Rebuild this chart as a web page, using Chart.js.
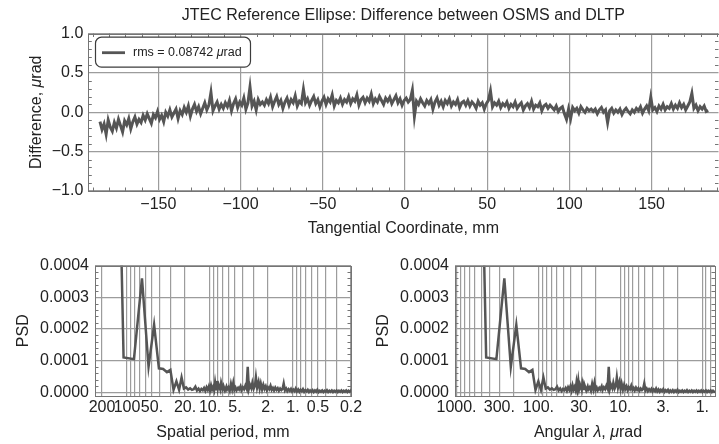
<!DOCTYPE html>
<html>
<head>
<meta charset="utf-8">
<script src="https://cdn.jsdelivr.net/npm/chart.js@4.4.1/dist/chart.umd.min.js"></script>
<style>
  html, body { margin: 0; padding: 0; background: #fff; }
  #wrap { position: relative; width: 719px; height: 444px; overflow: hidden; }
  canvas { position: absolute; }
</style>
</head>
<body>
<div id="wrap">
  <canvas id="diffChart" width="719" height="244" style="left:0;top:0;width:719px;height:244px"></canvas>
  <canvas id="periodChart" width="370" height="194" style="left:0;top:250px;width:370px;height:194px"></canvas>
  <canvas id="angularChart" width="349" height="194" style="left:370px;top:250px;width:349px;height:194px"></canvas>
</div>
<script>
// ---- data ----

// slope difference OSMS - DLTP, sampled along the mirror
const coordStartMm = -185.5;
const coordStepMm = 1.25;
const diffUrad = [
  -0.12, -0.22, -0.15, -0.28, -0.10, -0.19, -0.24, -0.13, -0.20, -0.09, -0.17, -0.25, -0.11, -0.16, -0.08, -0.21, -0.12, -0.06, -0.15, -0.09,
  -0.13, -0.04, -0.10, -0.02, -0.08, -0.14, -0.03, -0.07, 0.01, -0.09, -0.04, -0.12, 0.00, -0.05, 0.03, -0.06, -0.01, 0.04, -0.08, 0.02,
  -0.03, 0.06, 0.00, 0.08, -0.05, 0.04, 0.10, 0.01, 0.07, -0.02, 0.05, 0.12, 0.03, 0.09, 0.25, 0.02, 0.08, 0.13, 0.04, 0.10,
  0.05, 0.12, 0.07, 0.15, 0.02, 0.11, 0.17, 0.06, 0.13, 0.09, 0.18, 0.04, 0.12, 0.32, 0.08, 0.14, 0.03, 0.16, 0.10, 0.13,
  0.09, 0.16, 0.11, 0.19, 0.07, 0.14, 0.20, 0.10, 0.15, 0.05, 0.13, 0.18, 0.09, 0.16, 0.12, 0.21, 0.08, 0.14, 0.11, 0.29,
  0.12, 0.17, 0.09, 0.15, 0.20, 0.11, 0.16, 0.07, 0.14, 0.19, 0.10, 0.17, 0.13, 0.22, 0.08, 0.15, 0.12, 0.18, 0.10, 0.16,
  0.13, 0.20, 0.11, 0.17, 0.14, 0.22, 0.09, 0.16, 0.19, 0.12, 0.18, 0.14, 0.23, 0.11, 0.17, 0.13, 0.20, 0.15, 0.10, 0.18,
  0.14, 0.19, 0.11, 0.16, 0.21, 0.12, 0.17, 0.09, 0.15, 0.18, 0.13, 0.16, 0.28, -0.05, 0.14, 0.10, 0.17, 0.12, 0.08, 0.15,
  0.11, 0.16, 0.04, 0.13, 0.18, 0.09, 0.14, 0.07, 0.15, 0.11, 0.17, 0.08, 0.13, 0.10, 0.16, 0.06, 0.12, 0.14, 0.09, 0.15,
  0.08, 0.13, 0.10, 0.05, 0.14, 0.09, 0.12, 0.04, 0.11, 0.15, 0.27, 0.07, 0.12, 0.09, 0.14, 0.06, 0.11, 0.08, 0.13, 0.05,
  0.10, 0.07, 0.13, 0.05, 0.09, 0.12, 0.03, 0.08, 0.11, 0.06, 0.14, 0.04, 0.09, 0.07, 0.12, 0.02, 0.08, 0.10, 0.05, 0.09,
  0.06, 0.03, 0.08, 0.01, 0.05, 0.07, -0.02, -0.09, 0.04, -0.08, 0.06, 0.02, 0.05, -0.01, 0.07, 0.03, 0.00, 0.05, 0.02, 0.04,
  0.01, 0.04, -0.02, 0.03, 0.06, 0.00, 0.03, -0.13, 0.02, 0.05, -0.01, 0.03, 0.00, 0.04, -0.03, 0.02, 0.05, 0.01, -0.02, 0.03,
  0.00, 0.05, 0.02, 0.07, -0.01, 0.04, 0.08, 0.02, 0.19, 0.03, 0.06, 0.01, 0.08, 0.04, 0.10, 0.03, 0.07, 0.05, 0.11, 0.04,
  0.09, 0.05, 0.12, 0.06, 0.10, 0.03, 0.08, 0.13, 0.24, 0.05, 0.09, 0.02, 0.07, 0.04, 0.08, 0.01, 0.02
];
const rmsText = "0.08742";

// PSD of the difference, by harmonic number k of the trace (period = L / k)
const traceLengthMm = 330;
const angularPerMm = 3.95;   // angular lambda (µrad) per mm of spatial period
const harmonic = [
  2, 3, 4, 5, 6, 7, 8, 9, 10, 11, 12, 13, 14, 15, 16, 17, 18, 19, 20,
  21, 22, 23, 24, 25, 26, 27, 28, 29, 30, 31, 32, 33, 34, 35, 36, 37, 38, 39, 40, 41, 42,
  44, 45, 47, 48, 50, 52, 53, 55, 57, 59, 61, 63, 65, 67, 69, 72, 74, 77, 79, 82,
  85, 88, 91, 94, 97, 100, 104, 107, 111, 115, 118, 122, 127, 131, 135, 140, 145, 150, 155, 160,
  165, 171, 177, 183, 189, 195, 202, 209, 216, 223, 231, 239, 247, 255, 264, 273, 282, 292, 302, 312,
  322, 333, 345, 356, 368, 381, 394, 407, 421, 435, 450, 465, 481, 497, 514, 531, 549, 568, 587, 607,
  628, 649, 671, 694, 717, 742, 767, 793, 820, 847, 876, 906, 936, 968, 1001, 1035, 1070, 1106, 1143, 1182,
  1222, 1263, 1306, 1350, 1396, 1443, 1492, 1542, 1594, 1648, 1704, 1762, 1821, 1850
];
// PSD x 1e6
const psdE6 = [
  2300, 110, 105, 360, 81, 213, 76, 74, 64, 71, 8, 35, 8, 47, 12, 16, 9, 13, 8,
  10, 18, 6, 12, 4, 11, 7, 14, 5, 16, 8, 19, 6, 22, 9, 17, 7, 31, 10, 36, 12, 24,
  8, 30, 11, 20, 6, 18, 9, 16, 5, 27, 10, 30, 8, 15, 6, 14, 9, 19, 7, 16,
  10, 21, 12, 81, 11, 24, 13, 30, 12, 22, 47, 15, 33, 12, 28, 9, 24, 11, 19, 7,
  16, 10, 21, 8, 14, 6, 15, 8, 13, 5, 12, 7, 11, 28, 6, 12, 4, 10, 5, 11,
  3, 9, 4, 12, 3, 9, 2, 8, 4, 10, 2, 7, 3, 8, 1, 6, 2, 7, 1, 6,
  2, 8, 1, 5, 2, 6, 1, 5, 2, 7, 1, 5, 2, 6, 1, 5, 2, 6, 1, 5,
  2, 6, 1, 5, 2, 6, 1, 5, 2, 6, 1, 5, 2, 4
];

// tick labels
const diffXTicks = [-150, -100, -50, 0, 50, 100, 150];
const diffYTicks = [-1, -0.5, 0, 0.5, 1];
const psdYTicks = [0, 0.0001, 0.0002, 0.0003, 0.0004];
const periodTickValues = [200, 100, 50, 20, 10, 5, 2, 1, 0.5, 0.2];
const periodTickText = ["200", "100", "50.", "20.", "10.", "5.", "2.", "1.", "0.5", "0.2"];
const angularTickValues = [1000, 300, 100, 30, 10, 3, 1];
const angularTickText = ["1000.", "300.", "100.", "30.", "10.", "3.", "1."];

// ---- styling ----
const FONT = '"Liberation Sans", Arial, sans-serif';
const INK = "#222222";
const FRAME = "#757575";
const GRID = "#9c9c9c";
const TRACE = "#555555";
Chart.defaults.font.family = FONT;

const minus = s => s.replace("-", "\u2212");

// log gridlines 1..9 x 10^n inside [lo, hi]
function logGrid(lo, hi) {
  const out = [];
  for (let e = -1; e <= 3; e++) {
    for (let m = 1; m <= 9; m++) {
      const v = +(m * Math.pow(10, e)).toPrecision(3);
      if (v >= lo && v <= hi) out.push(v);
    }
  }
  return out.sort((a, b) => b - a);
}

function richText(ctx, parts, x, y, size, vertical) {
  ctx.save();
  ctx.translate(x, y);
  if (vertical) ctx.rotate(-Math.PI / 2);
  let total = 0;
  parts.forEach(p => {
    ctx.font = (p.i ? "italic " : "") + size + "px " + FONT;
    total += ctx.measureText(p.t).width;
  });
  let cx = -total / 2;
  ctx.textBaseline = "middle";
  ctx.textAlign = "left";
  ctx.fillStyle = INK;
  parts.forEach(p => {
    ctx.font = (p.i ? "italic " : "") + size + "px " + FONT;
    ctx.fillText(p.t, cx, 0);
    cx += ctx.measureText(p.t).width;
  });
  ctx.restore();
}

// Mathematica-style frame: box, inward minor ticks, axis titles, legend
const framePlugin = {
  id: "frame",
  afterDatasetsDraw(chart, args, o) {
    const { ctx, chartArea: a } = chart;
    const xs = chart.scales.x, ys = chart.scales.y;
    ctx.save();
    ctx.strokeStyle = FRAME;
    ctx.lineWidth = 1;
    ctx.strokeRect(Math.round(a.left) + 0.5, Math.round(a.top) + 0.5,
      Math.round(a.right) - Math.round(a.left), Math.round(a.bottom) - Math.round(a.top));
    ctx.beginPath();
    (o.minorX || []).forEach(v => {
      const px = Math.round(xs.getPixelForValue(v)) + 0.5;
      ctx.moveTo(px, a.bottom); ctx.lineTo(px, a.bottom - o.tick);
      ctx.moveTo(px, a.top); ctx.lineTo(px, a.top + o.tick);
    });
    (o.minorY || []).forEach(v => {
      const py = Math.round(ys.getPixelForValue(v)) + 0.5;
      ctx.moveTo(a.left, py); ctx.lineTo(a.left + o.tick, py);
      ctx.moveTo(a.right, py); ctx.lineTo(a.right - o.tick, py);
    });
    ctx.stroke();
    richText(ctx, o.xTitle, (a.left + a.right) / 2 + (o.xTitleShift || 0), a.bottom + o.xTitleGap, 16, false);
    richText(ctx, o.yTitle, o.yTitleX, (a.top + a.bottom) / 2, 16, true);
    if (o.legend) {
      const L = o.legend;
      const bx = a.left + 6.7, by = a.top + 3.2, bw = 155, bh = 30;
      ctx.beginPath();
      ctx.roundRect(bx + 0.5, by + 0.5, bw, bh, 6);
      ctx.fillStyle = "#fff";
      ctx.fill();
      ctx.strokeStyle = "#3c3c3c";
      ctx.lineWidth = 1.2;
      ctx.stroke();
      ctx.beginPath();
      ctx.strokeStyle = TRACE;
      ctx.lineWidth = 2.8;
      ctx.moveTo(bx + 7, by + 16);
      ctx.lineTo(bx + 30, by + 16);
      ctx.stroke();
      let cx = bx + 38;
      ctx.fillStyle = INK;
      ctx.textBaseline = "middle";
      L.forEach(p => {
        ctx.font = (p.i ? "italic " : "") + "12.5px " + FONT;
        ctx.fillText(p.t, cx, by + 16);
        cx += ctx.measureText(p.t).width;
      });
    }
    ctx.restore();
  }
};

function fixAxis(size, horizontal) {
  return s => {
    if (horizontal) { s.height = size; s.paddingLeft = 0; s.paddingRight = 0; }
    else { s.width = size; s.paddingTop = 0; s.paddingBottom = 0; }
  };
}

const tickFont = { family: FONT, size: 16 };

// ---- top: difference trace ----
const minorX = [], minorY = [];
for (let v = -190; v <= 190; v += 10) if (v % 50 !== 0) minorX.push(v);
for (let v = -9; v <= 9; v++) if (v % 5 !== 0) minorY.push(v / 10);

new Chart(document.getElementById("diffChart"), {
  type: "line",
  data: {
    datasets: [{
      label: "rms = " + rmsText + " \u03bcrad",
      data: diffUrad.map((v, i) => ({ x: coordStartMm + i * coordStepMm, y: v })),
      borderColor: TRACE,
      borderWidth: 3,
      pointRadius: 0,
      tension: 0,
      clip: 0
    }]
  },
  options: {
    responsive: false,
    animation: false,
    devicePixelRatio: 1,
    layout: { autoPadding: false, padding: { left: 0, right: 0.5, top: 0, bottom: 0 } },
    scales: {
      x: {
        type: "linear", min: -192.6, max: 190.7,
        afterFit: fixAxis(53, true),
        afterBuildTicks: s => { s.ticks = diffXTicks.map(value => ({ value })); },
        grid: { color: GRID, lineWidth: 1.2, drawTicks: false },
        border: { display: false },
        ticks: { color: INK, font: tickFont, padding: 3.9, maxRotation: 0, autoSkip: false,
          callback: v => minus(String(v)) }
      },
      y: {
        min: -1, max: 1,
        afterFit: fixAxis(88.3, false),
        afterBuildTicks: s => { s.ticks = diffYTicks.map(value => ({ value })); },
        grid: { color: GRID, lineWidth: 1.2, drawTicks: false },
        border: { display: false },
        ticks: { color: INK, font: tickFont, padding: 5, callback: v => minus(v.toFixed(1)) }
      }
    },
    plugins: {
      legend: { display: false },
      tooltip: { enabled: false },
      title: {
        display: true, fullSize: false,
        text: "JTEC Reference Ellipse: Difference between OSMS and DLTP",
        color: INK, font: { family: FONT, size: 16, weight: "normal" },
        padding: { top: 6, bottom: 8.3 }
      },
      frame: {
        minorX, minorY, tick: 3.5,
        xTitle: [{ t: "Tangential Coordinate, mm" }], xTitleGap: 38,
        yTitle: [{ t: "Difference, " }, { t: "\u03bc", i: true }, { t: "rad" }], yTitleX: 37,
        legend: [{ t: "rms = " + rmsText + " " }, { t: "\u03bc", i: true }, { t: "rad" }]
      }
    }
  },
  plugins: [framePlugin]
});

// ---- bottom: PSD vs spatial period and vs angular lambda ----
const psdMinorY = [];
for (let v = 1; v <= 19; v++) if (v % 5 !== 0) psdMinorY.push(v * 0.00002);

function psdChart(id, xFactor, xMin, xMax, tickValues, tickText, yAxisWidth, rightPad, xTitle, xShift, yTitleX) {
  return new Chart(document.getElementById(id), {
    type: "line",
    data: {
      datasets: [{
        data: harmonic.map((k, i) => ({ x: traceLengthMm / k * xFactor, y: psdE6[i] * 1e-6 })),
        borderColor: TRACE,
        borderWidth: 2.5,
        pointRadius: 0,
        tension: 0,
        clip: 0
      }]
    },
    options: {
      responsive: false,
      animation: false,
      devicePixelRatio: 1,
      layout: { autoPadding: false, padding: { left: 0, right: rightPad, top: 15.7, bottom: 0 } },
      scales: {
        x: {
          type: "logarithmic", reverse: true, min: xMin, max: xMax,
          afterFit: fixAxis(48.3, true),
          afterBuildTicks: s => { s.ticks = logGrid(xMin, xMax).map(value => ({ value })); },
          grid: { color: GRID, lineWidth: 1.2, drawTicks: false },
          border: { display: false },
          ticks: { color: INK, font: tickFont, padding: 2.7, maxRotation: 0, autoSkip: false,
            callback: v => { const j = tickValues.indexOf(v); return j < 0 ? "" : tickText[j]; } }
        },
        y: {
          min: -0.0000105, max: 0.0004,
          afterFit: fixAxis(yAxisWidth, false),
          afterBuildTicks: s => { s.ticks = psdYTicks.map(value => ({ value })); },
          grid: { color: GRID, lineWidth: 1.2, drawTicks: false },
          border: { display: false },
          ticks: { color: INK, font: tickFont, padding: 6, callback: v => v.toFixed(4) }
        }
      },
      plugins: {
        legend: { display: false },
        tooltip: { enabled: false },
        frame: {
          minorY: psdMinorY, tick: 3.5,
          xTitle, xTitleGap: 37.3, xTitleShift: xShift,
          yTitle: [{ t: "PSD" }], yTitleX
        }
      }
    },
    plugins: [framePlugin]
  });
}

psdChart("periodChart", 1, 0.2, 243, periodTickValues, periodTickText, 95, 19,
  [{ t: "Spatial period, mm" }], 0, 24);
psdChart("angularChart", angularPerMm, 0.736, 1043, angularTickValues, angularTickText, 85, 4,
  [{ t: "Angular " }, { t: "\u03bb", i: true }, { t: ", " }, { t: "\u03bc", i: true }, { t: "rad" }], 3, 14);
</script>
</body>
</html>
